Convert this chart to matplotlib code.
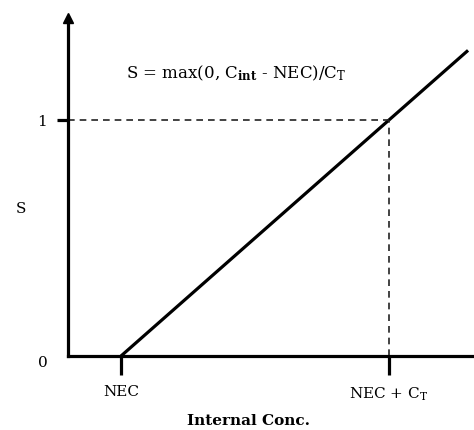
import matplotlib
matplotlib.use('Agg')
import matplotlib.pyplot as plt

# data: NEC = 1, NEC + C_T = 2 on the concentration axis
conc = [1.0, 2.295]
s_vals = [0.0, 1.295]
nec = 1.0
nec_ct = 2.0
xtick_pos = [nec, nec_ct]
xtick_labels = ['NEC', 'NEC + C$_\\mathregular{T}$']

plt.rcParams['font.family'] = 'DejaVu Serif'
plt.rcParams['mathtext.fontset'] = 'dejavuserif'

fig = plt.figure(figsize=(4.74, 4.31), dpi=100)
ax = fig.add_axes([68 / 474, 74 / 431, 406 / 474, 344 / 431])
ax.set_xlim(0.8022, 2.3172)
ax.set_ylim(0, 1.4576)

ax.plot(conc, s_vals, color='black', lw=2.3, solid_capstyle='butt')
# guide lines at S = 1
ax.plot([0.8022, nec_ct], [1, 1], color='#222222', lw=1.2, dashes=(4, 3))
ax.plot([nec_ct, nec_ct], [0, 1], color='#222222', lw=1.2, dashes=(4, 3))

for side in ['top', 'right']:
    ax.spines[side].set_visible(False)
for side in ['left', 'bottom']:
    ax.spines[side].set_linewidth(2.3)
ax.spines['left'].set_bounds(0, 1.41)

# arrow head on the y axis
ax.plot([0.8022], [1.432], marker='^', color='black', markersize=7.5, clip_on=False)

ax.set_xticks(xtick_pos)
ax.set_xticklabels(xtick_labels, fontsize=11)
ax.set_yticks([1])
ax.set_yticklabels(['1'], fontsize=11)
ax.tick_params(axis='x', direction='out', length=13.5, width=2.3, pad=7)
ax.tick_params(axis='y', direction='out', length=8, width=2.3, pad=7)
ax.text(-0.05, -0.018, '0', transform=ax.transAxes, ha='right', va='center', fontsize=11)

ax.text(-0.115, 0.43, 'S', transform=ax.transAxes, ha='center', va='center', fontsize=11)
ax.text(0.415, 0.824, 'S = max(0, C$_{\\mathbf{int}}$ - NEC)/C$_\\mathregular{T}$',
        transform=ax.transAxes, ha='center', va='center', fontsize=12)
fig.text(248 / 474, 1 - 421 / 431, 'Internal Conc.', ha='center', va='center',
         fontsize=11, fontweight='bold')

fig.savefig('out.png', dpi=100)
